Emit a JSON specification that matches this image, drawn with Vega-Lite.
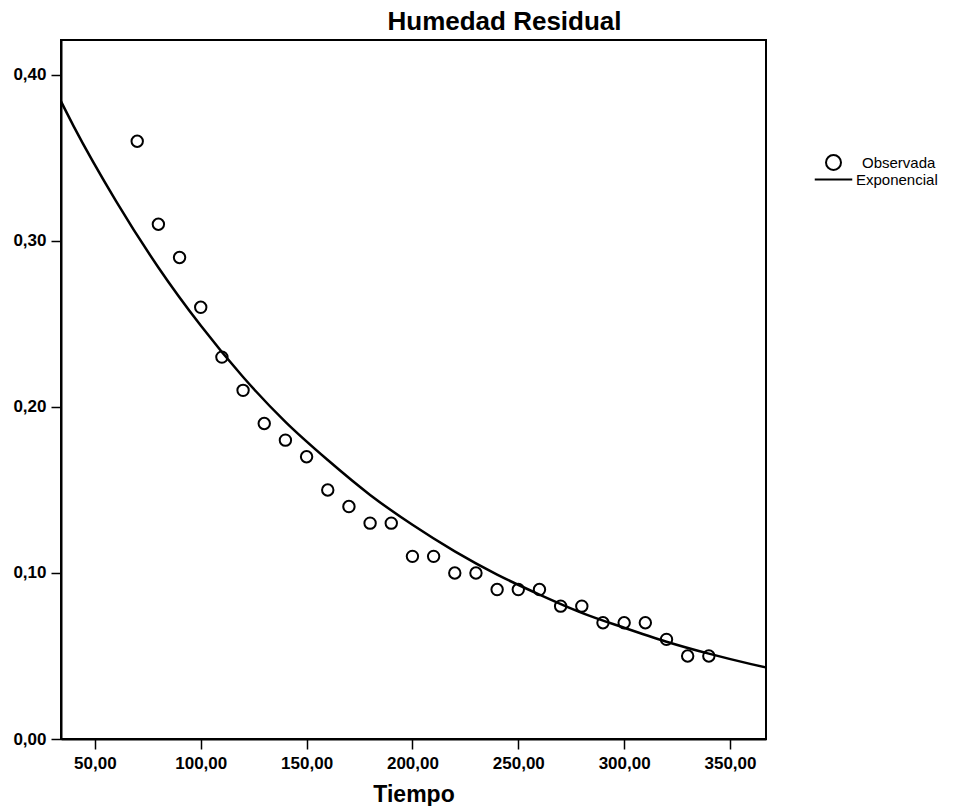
{
  "$schema": "https://vega.github.io/schema/vega-lite/v6.json",
  "autosize": {"type": "none"},
  "width": 705,
  "height": 699,
  "padding": {"left": 61, "top": 40, "right": 198, "bottom": 67},
  "background": "white",
  "title": {
    "text": "Humedad Residual",
    "anchor": "middle",
    "frame": "group",
    "dx": 91,
    "dy": 27,
    "offset": 6,
    "baseline": "bottom",
    "font": "Liberation Sans",
    "fontSize": 26,
    "fontWeight": "bold",
    "color": "black"
  },
  "datasets": {
    "obs": [
      {"tiempo": 70, "humedad": 0.36, "serie": "Observada"},
      {"tiempo": 80, "humedad": 0.31, "serie": "Observada"},
      {"tiempo": 90, "humedad": 0.29, "serie": "Observada"},
      {"tiempo": 100, "humedad": 0.26, "serie": "Observada"},
      {"tiempo": 110, "humedad": 0.23, "serie": "Observada"},
      {"tiempo": 120, "humedad": 0.21, "serie": "Observada"},
      {"tiempo": 130, "humedad": 0.19, "serie": "Observada"},
      {"tiempo": 140, "humedad": 0.18, "serie": "Observada"},
      {"tiempo": 150, "humedad": 0.17, "serie": "Observada"},
      {"tiempo": 160, "humedad": 0.15, "serie": "Observada"},
      {"tiempo": 170, "humedad": 0.14, "serie": "Observada"},
      {"tiempo": 180, "humedad": 0.13, "serie": "Observada"},
      {"tiempo": 190, "humedad": 0.13, "serie": "Observada"},
      {"tiempo": 200, "humedad": 0.11, "serie": "Observada"},
      {"tiempo": 210, "humedad": 0.11, "serie": "Observada"},
      {"tiempo": 220, "humedad": 0.10, "serie": "Observada"},
      {"tiempo": 230, "humedad": 0.10, "serie": "Observada"},
      {"tiempo": 240, "humedad": 0.09, "serie": "Observada"},
      {"tiempo": 250, "humedad": 0.09, "serie": "Observada"},
      {"tiempo": 260, "humedad": 0.09, "serie": "Observada"},
      {"tiempo": 270, "humedad": 0.08, "serie": "Observada"},
      {"tiempo": 280, "humedad": 0.08, "serie": "Observada"},
      {"tiempo": 290, "humedad": 0.07, "serie": "Observada"},
      {"tiempo": 300, "humedad": 0.07, "serie": "Observada"},
      {"tiempo": 310, "humedad": 0.07, "serie": "Observada"},
      {"tiempo": 320, "humedad": 0.06, "serie": "Observada"},
      {"tiempo": 330, "humedad": 0.05, "serie": "Observada"},
      {"tiempo": 340, "humedad": 0.05, "serie": "Observada"}
    ],
    "ajuste": [
      {"tiempo": 34, "humedad": 0.384, "serie": "Exponencial"},
      {"tiempo": 40, "humedad": 0.369, "serie": "Exponencial"},
      {"tiempo": 60, "humedad": 0.324, "serie": "Exponencial"},
      {"tiempo": 80, "humedad": 0.284, "serie": "Exponencial"},
      {"tiempo": 100, "humedad": 0.249, "serie": "Exponencial"},
      {"tiempo": 120, "humedad": 0.218, "serie": "Exponencial"},
      {"tiempo": 140, "humedad": 0.191, "serie": "Exponencial"},
      {"tiempo": 160, "humedad": 0.168, "serie": "Exponencial"},
      {"tiempo": 180, "humedad": 0.147, "serie": "Exponencial"},
      {"tiempo": 200, "humedad": 0.129, "serie": "Exponencial"},
      {"tiempo": 220, "humedad": 0.113, "serie": "Exponencial"},
      {"tiempo": 240, "humedad": 0.099, "serie": "Exponencial"},
      {"tiempo": 260, "humedad": 0.087, "serie": "Exponencial"},
      {"tiempo": 280, "humedad": 0.076, "serie": "Exponencial"},
      {"tiempo": 300, "humedad": 0.067, "serie": "Exponencial"},
      {"tiempo": 320, "humedad": 0.0586, "serie": "Exponencial"},
      {"tiempo": 340, "humedad": 0.0514, "serie": "Exponencial"},
      {"tiempo": 360, "humedad": 0.0451, "serie": "Exponencial"},
      {"tiempo": 367, "humedad": 0.0431, "serie": "Exponencial"}
    ]
  },
  "encoding": {
    "x": {
      "field": "tiempo",
      "type": "quantitative",
      "scale": {"domain": [34, 367], "nice": false, "zero": false},
      "axis": {
        "title": "Tiempo",
        "values": [50, 100, 150, 200, 250, 300, 350],
        "labelExpr": "replace(format(datum.value, '.2f'), '.', ',')",
        "grid": false,
        "tickSize": 10,
        "labelPadding": 6,
        "titlePadding": 12,
        "titleFontSize": 23
      }
    },
    "y": {
      "field": "humedad",
      "type": "quantitative",
      "scale": {"domain": [0, 0.421], "nice": false, "zero": true},
      "axis": {
        "title": null,
        "values": [0, 0.1, 0.2, 0.3, 0.4],
        "labelExpr": "replace(format(datum.value, '.2f'), '.', ',')",
        "grid": false,
        "tickSize": 10,
        "labelPadding": 5
      }
    }
  },
  "layer": [
    {
      "data": {"name": "ajuste"},
      "mark": {"type": "line", "strokeWidth": 2.5, "interpolate": "monotone", "clip": true},
      "encoding": {
        "color": {
          "field": "serie",
          "type": "nominal",
          "scale": {"domain": ["Exponencial"], "range": ["black"]},
          "legend": {
            "title": null,
            "orient": "none",
            "legendX": 764,
            "legendY": 131,
            "padding": 0,
            "symbolType": "M-2.5,0H2.5",
            "symbolSize": 225,
            "symbolStrokeWidth": 2,
            "symbolStrokeColor": "black",
            "labelOffset": 14,
            "labelFontSize": 15,
            "labelFont": "Liberation Sans",
            "labelColor": "black"
          }
        }
      }
    },
    {
      "data": {"name": "obs"},
      "mark": {"type": "point", "filled": false, "color": "black", "strokeWidth": 2, "size": 130, "opacity": 1},
      "encoding": {
        "shape": {
          "field": "serie",
          "type": "nominal",
          "scale": {"domain": ["Observada"], "range": ["circle"]},
          "legend": {
            "title": null,
            "orient": "none",
            "legendX": 764,
            "legendY": 114,
            "padding": 0,
            "symbolSize": 225,
            "symbolStrokeWidth": 2,
            "symbolStrokeColor": "black",
            "symbolFillColor": "transparent",
            "labelOffset": 20,
            "labelFontSize": 15,
            "labelFont": "Liberation Sans",
            "labelColor": "black"
          }
        }
      }
    }
  ],
  "config": {
    "view": {"stroke": "black", "strokeWidth": 2},
    "axis": {
      "domainColor": "black",
      "domainWidth": 2,
      "tickColor": "black",
      "tickWidth": 1.5,
      "labelColor": "black",
      "labelFont": "Liberation Sans",
      "labelFontSize": 17,
      "labelFontWeight": "bold",
      "titleColor": "black",
      "titleFont": "Liberation Sans",
      "titleFontWeight": "bold"
    }
  }
}
